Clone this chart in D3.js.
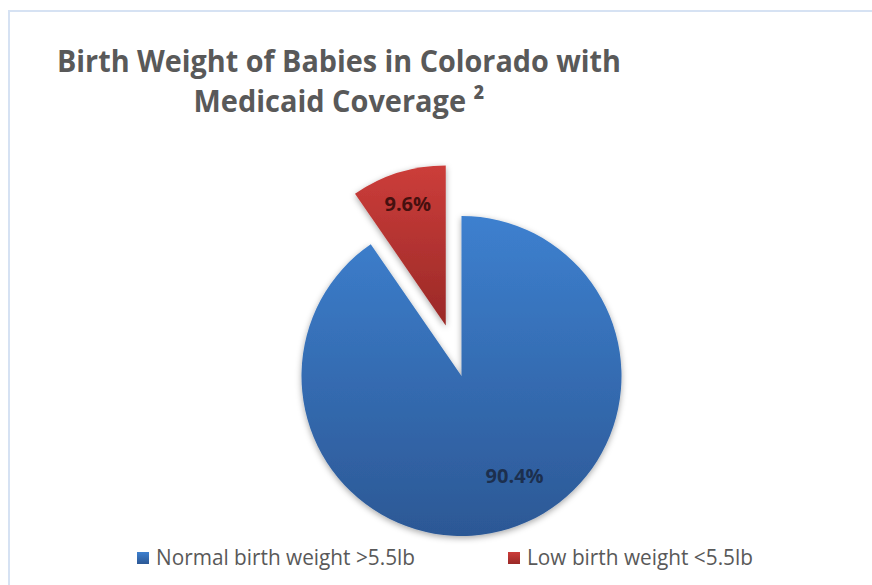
<!DOCTYPE html>
<html><head><meta charset="utf-8">
<script src="https://cdn.jsdelivr.net/npm/d3@7"></script>
<style>html,body{margin:0;padding:0;background:#fff;}svg{display:block;}</style>
</head><body>
<svg id="chart" width="872" height="585"></svg>
<script>
// ---- data ----
const categories = ["Normal birth weight >5.5lb", "Low birth weight <5.5lb"];
const values = [90.4, 9.6];
const valueLabels = ["90.4%", "9.6%"];
const titleLines = ["Birth Weight of Babies in Colorado with", "Medicaid Coverage \u00B2"];

// ---- styling / layout ----
const colorsTop = ["#3d80cf", "#cc3d3a"];
const colorsBottom = ["#2c5895", "#9a2927"];
const labelColors = ["#1c2f4e", "#46100f"];
const explode = [0, 53];
const labelRadius = [113, 128];
const labelAngleFrac = [0.467, 0.5];
const cx = 461.5, cy = 376, R = 160;

const svg = d3.select("#chart");
const defs = svg.append("defs");

const f = defs.append("filter").attr("id", "shadow")
  .attr("x", "-20%").attr("y", "-20%").attr("width", "140%").attr("height", "140%");
f.append("feDropShadow").attr("dx", 0).attr("dy", 2).attr("stdDeviation", 3)
  .attr("flood-color", "#000").attr("flood-opacity", 0.35);

categories.forEach((c, i) => {
  const g = defs.append("linearGradient").attr("id", "grad" + i)
    .attr("x1", 0).attr("y1", 0).attr("x2", 0).attr("y2", 1);
  g.append("stop").attr("offset", "0%").attr("stop-color", colorsTop[i]);
  g.append("stop").attr("offset", "100%").attr("stop-color", colorsBottom[i]);
});

// border
svg.append("rect").attr("x", 9).attr("y", 11).attr("width", 880).attr("height", 600)
  .attr("fill", "none").attr("stroke", "#d6e2f3").attr("stroke-width", 2);

// title
const titleG = svg.append("g");
const titleLens = [564, 291];
titleLines.forEach((t, i) => {
  titleG.append("text")
    .attr("x", 339).attr("y", 72 + i * 40)
    .attr("text-anchor", "middle")
    .attr("font-family", "'Open Sans', sans-serif")
    .attr("font-weight", "bold").attr("font-size", 31)
    .attr("fill", "#595959")
    .attr("textLength", titleLens[i]).attr("lengthAdjust", "spacingAndGlyphs")
    .text(t);
});

// pie
const pie = d3.pie().sort(null).startAngle(0).endAngle(2 * Math.PI);
const arcs = pie(values);
const arc = d3.arc().innerRadius(0).outerRadius(R);

const pieG = svg.append("g").attr("transform", `translate(${cx},${cy})`);
arcs.forEach((a, i) => {
  const mid = (a.startAngle + a.endAngle) / 2;
  const ox = Math.sin(mid) * explode[i], oy = -Math.cos(mid) * explode[i];
  const g = pieG.append("g").attr("transform", `translate(${ox},${oy})`);
  g.append("path").attr("d", arc(a))
    .attr("fill", `url(#grad${i})`)
    .attr("filter", "url(#shadow)");
});
arcs.forEach((a, i) => {
  const mid = (a.startAngle + a.endAngle) / 2;
  const ox = Math.sin(mid) * explode[i], oy = -Math.cos(mid) * explode[i];
  const la = a.startAngle + (a.endAngle - a.startAngle) * labelAngleFrac[i];
  const lx = ox + Math.sin(la) * labelRadius[i], ly = oy - Math.cos(la) * labelRadius[i];
  pieG.append("text")
    .attr("x", lx).attr("y", ly)
    .attr("text-anchor", "middle").attr("dominant-baseline", "central")
    .attr("font-family", "'Open Sans', sans-serif")
    .attr("font-weight", "bold").attr("font-size", 20)
    .attr("fill", labelColors[i])
    .text(valueLabels[i]);
});

// legend
const legendX = [137, 508];
const legendLens = [259, 226];
const leg = svg.append("g");
categories.forEach((c, i) => {
  leg.append("rect").attr("x", legendX[i]).attr("y", 552).attr("width", 12).attr("height", 12)
    .attr("fill", `url(#grad${i})`);
  leg.append("text").attr("x", legendX[i] + 19).attr("y", 565)
    .attr("font-family", "'Open Sans', sans-serif").attr("font-size", 21)
    .attr("fill", "#595959")
    .attr("textLength", legendLens[i]).attr("lengthAdjust", "spacingAndGlyphs")
    .text(c);
});
</script>
</body></html>
